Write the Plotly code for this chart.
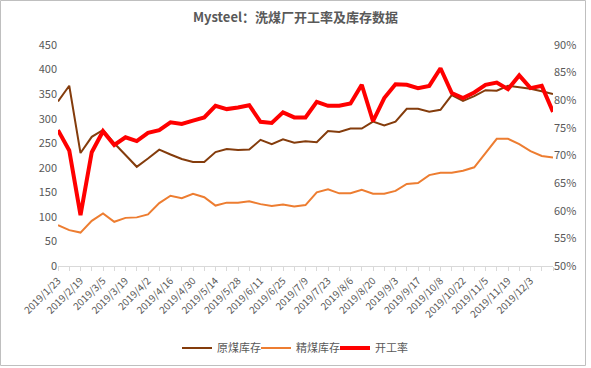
import plotly.graph_objects as go

dates = ["2019/1/23","2019/1/30","2019/2/19","2019/2/26","2019/3/5","2019/3/12","2019/3/19","2019/3/26",
         "2019/4/2","2019/4/9","2019/4/16","2019/4/23","2019/4/30","2019/5/7","2019/5/14","2019/5/21",
         "2019/5/28","2019/6/4","2019/6/11","2019/6/18","2019/6/25","2019/7/2","2019/7/9","2019/7/16",
         "2019/7/23","2019/7/30","2019/8/6","2019/8/13","2019/8/20","2019/8/27","2019/9/3","2019/9/10",
         "2019/9/17","2019/9/24","2019/10/8","2019/10/15","2019/10/22","2019/10/29","2019/11/5","2019/11/12",
         "2019/11/19","2019/11/26","2019/12/3","2019/12/10","2019/12/17"]

raw_coal = [335, 367, 230, 263, 277, 250, 226, 202, 219, 237, 227, 218, 212, 212, 232, 238, 236, 237,
            257, 248, 258, 251, 254, 252, 275, 273, 280, 280, 294, 286, 294, 320, 320, 314, 318, 348,
            336, 346, 358, 357, 367, 364, 361, 356, 350]

clean_coal = [83, 73, 68, 92, 107, 90, 98, 99, 105, 128, 143, 138, 147, 140, 123, 129, 129, 132,
              126, 122, 125, 121, 124, 150, 156, 148, 148, 155, 147, 147, 153, 167, 169, 185, 190, 190,
              194, 201, 230, 259, 259, 248, 234, 224, 221]

run_rate = [74.6, 70.9, 59.2, 70.6, 74.4, 71.9, 73.3, 72.6, 74.1, 74.6, 76.0, 75.7, 76.3, 76.9, 79.0,
            78.4, 78.7, 79.1, 76.1, 75.9, 77.8, 76.9, 76.9, 79.7, 79.0, 79.0, 79.4, 82.8, 76.2, 80.4,
            82.9, 82.8, 82.2, 82.6, 85.8, 81.3, 80.4, 81.4, 82.8, 83.2, 82.0, 84.5, 82.2, 82.6, 77.9]

names = ["原煤库存", "精煤库存", "开工率"]
left_ticks = [0, 50, 100, 150, 200, 250, 300, 350, 400, 450]
right_ticks = [50, 55, 60, 65, 70, 75, 80, 85, 90]
right_labels = [f"{v}%" for v in right_ticks]

FONT = "Noto Sans CJK SC"
GREY = "#595959"

# every second category labelled (the last category is left unlabelled, as in the source)
tick_text = [d if (i % 2 == 0 and i < len(dates) - 1) else "" for i, d in enumerate(dates)]

fig = go.Figure()
fig.add_trace(go.Scatter(x=dates, y=raw_coal, name=names[0], mode="lines",
                         line=dict(color="#843C0C", width=2)))
fig.add_trace(go.Scatter(x=dates, y=clean_coal, name=names[1], mode="lines",
                         line=dict(color="#ED7D31", width=2)))
fig.add_trace(go.Scatter(x=dates, y=run_rate, name=names[2], mode="lines", yaxis="y2",
                         line=dict(color="#FF0000", width=4)))

fig.update_layout(
    width=591, height=368,
    margin=dict(l=58, r=38, t=45, b=102, autoexpand=False),
    paper_bgcolor="white", plot_bgcolor="white",
    font=dict(family=FONT, size=11, color=GREY),
    title=dict(text="<b>Mysteel：洗煤厂开工率及库存数据</b>", x=0.5, xref="container",
               xanchor="center", y=1 - 17 / 368, yref="container", yanchor="middle",
               font=dict(family=FONT, size=13, color=GREY)),
    showlegend=True,
    legend=dict(orientation="h", x=0.5, xref="container", xanchor="center",
                y=1 - 348 / 368, yref="container", yanchor="middle",
                font=dict(family=FONT, size=11, color=GREY), itemwidth=30,
                entrywidth=34, entrywidthmode="pixels",
                tracegroupgap=0, bgcolor="rgba(0,0,0,0)"),
    xaxis=dict(type="category", range=[0, len(dates) - 1], tickmode="array",
               tickvals=dates, ticktext=tick_text, tickangle=-45, automargin=False,
               showline=True, linecolor="#D9D9D9", linewidth=1,
               ticks="outside", ticklen=4, tickcolor="#D9D9D9",
               showgrid=False, zeroline=False,
               tickfont=dict(family=FONT, size=10, color=GREY)),
    yaxis=dict(range=[0, 450], tickmode="array", tickvals=left_ticks, automargin=False,
               showgrid=False, zeroline=False, showline=False, ticks="",
               tickfont=dict(family=FONT, size=11, color=GREY)),
    yaxis2=dict(range=[50, 90], tickmode="array", tickvals=right_ticks, ticktext=right_labels,
                overlaying="y", side="right", showgrid=False, zeroline=False,
                showline=False, ticks="", automargin=False,
                tickfont=dict(family=FONT, size=11, color=GREY)),
    shapes=[dict(type="rect", xref="paper", yref="paper",
                 x0=(0.5 - 58) / 495, x1=(585.5 - 58) / 495,
                 y0=(266 - 365.5) / 221, y1=(266 - 0.5) / 221,
                 line=dict(color="#BFBFBF", width=1), fillcolor="rgba(0,0,0,0)",
                 layer="below")],
)

fig.write_html("out.html", config={"displayModeBar": False},
               post_script="document.body.style.margin='0';document.body.style.overflow='hidden';")
